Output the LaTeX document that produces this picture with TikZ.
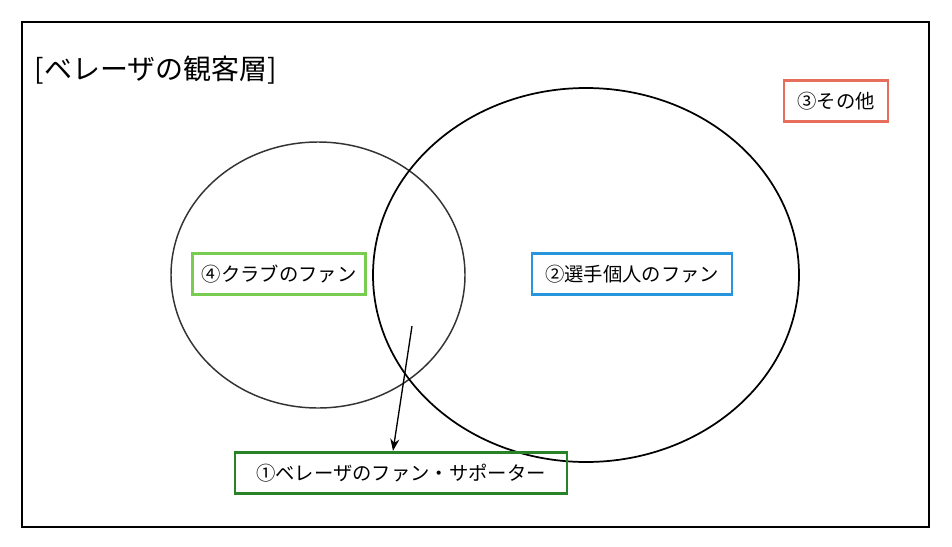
\documentclass[tikz,border=0pt]{standalone}
\usepackage{fontspec}
\setmainfont{Noto Sans CJK JP}
\usetikzlibrary{arrows.meta}
\begin{document}
\begin{tikzpicture}[x=0.75pt,y=-0.75pt,
  lbl/.style={draw,line width=2.2pt,minimum height=31pt,inner xsep=3pt,font=\fontsize{14.5}{16}\selectfont}]
\fill[white] (0,0) rectangle (952,546);
\useasboundingbox (0,0) rectangle (952,546);
\draw[line width=1.3pt] (22,22) rectangle (929,527);
\node[anchor=west,font=\fontsize{21}{24}\selectfont] (title) at (30,70) {[ベレーザの観客層]};
\draw[line width=1.1pt,black!80] (318,275) ellipse [x radius=147, y radius=133];
\draw[line width=1.3pt] (586,275) ellipse [x radius=213, y radius=187];
\node[lbl,draw={rgb,255:red,230;green,110;blue,90},minimum width=78pt] (other) at (836,101) {③その他};
\node[lbl,draw={rgb,255:red,120;green,205;blue,80},minimum width=130pt] (club) at (279,274) {④クラブのファン};
\node[lbl,draw={rgb,255:red,40;green,150;blue,220},minimum width=150pt] (player) at (632,274) {②選手個人のファン};
\node[lbl,draw={rgb,255:red,40;green,130;blue,40},minimum width=249pt] (fan) at (401,473) {①ベレーザのファン・サポーター};
\coordinate (src) at (412,326);
\draw[-{Stealth[length=9pt]},line width=1pt] (src) -- (fan.north -| 393,0);
\end{tikzpicture}
\end{document}
